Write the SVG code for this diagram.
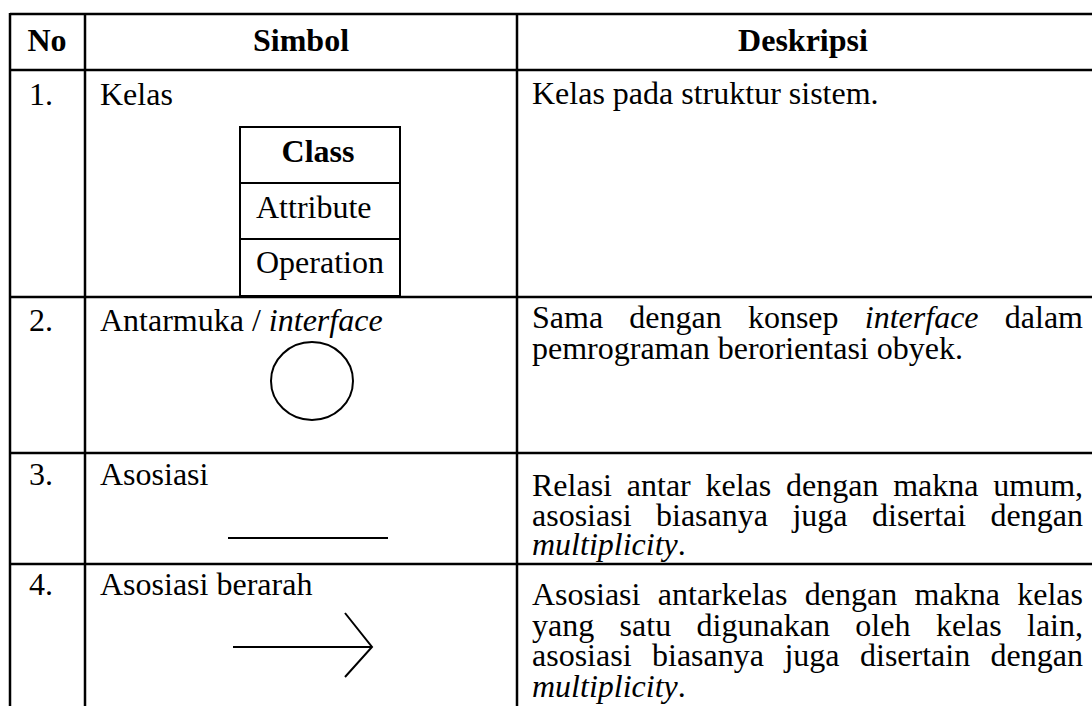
<svg xmlns="http://www.w3.org/2000/svg" width="1092" height="706" viewBox="0 0 1092 706">
  <style>
    text { font-family: "Liberation Serif", "Times New Roman", serif; font-size: 32px; fill: #000; }
    .b { font-weight: bold; }
    .i { font-style: italic; }
    .grid { stroke: #000; stroke-width: 2.5; fill: none; }
    .shape { stroke: #000; stroke-width: 2; fill: none; }
  </style>
  <rect width="1092" height="706" fill="#fff"/>

  <!-- table grid -->
  <g id="grid" class="grid">
    <line x1="10" y1="14" x2="1092" y2="14"/>
    <line x1="10" y1="70" x2="1092" y2="70"/>
    <line x1="10" y1="297" x2="1092" y2="297"/>
    <line x1="10" y1="453" x2="1092" y2="453"/>
    <line x1="10" y1="564" x2="1092" y2="564"/>
    <line x1="10" y1="13" x2="10" y2="706"/>
    <line x1="85" y1="13" x2="85" y2="706"/>
    <line x1="517" y1="13" x2="517" y2="706"/>
  </g>

  <!-- header -->
  <g id="header">
    <text class="b" x="47" y="51" text-anchor="middle">No</text>
    <text class="b" x="301" y="51" text-anchor="middle">Simbol</text>
    <text class="b" x="803" y="51" text-anchor="middle">Deskripsi</text>
  </g>

  <!-- row 1: class -->
  <g id="row1">
    <text x="29" y="105">1.</text>
    <text x="100" y="105">Kelas</text>
    <g id="class-symbol">
      <rect class="shape" x="240" y="127" width="160" height="169"/>
      <line class="shape" x1="240" y1="183" x2="400" y2="183"/>
      <line class="shape" x1="240" y1="239" x2="400" y2="239"/>
      <text class="b" x="318" y="162" text-anchor="middle">Class</text>
      <text x="256" y="218">Attribute</text>
      <text x="256" y="273">Operation</text>
    </g>
    <text x="532" y="104">Kelas pada struktur sistem.</text>
  </g>

  <!-- row 2: interface -->
  <g id="row2">
    <text x="29" y="331">2.</text>
    <text x="100" y="331">Antarmuka / <tspan class="i">interface</tspan></text>
    <ellipse id="interface-symbol" class="shape" cx="312" cy="381" rx="41" ry="39"/>
    <text y="328"><tspan x="532">Sama</tspan><tspan x="629.3">dengan</tspan><tspan x="747.9">konsep</tspan><tspan class="i" x="864.8">interface</tspan><tspan x="1004.8">dalam</tspan></text>
    <text x="532" y="359">pemrograman berorientasi obyek.</text>
  </g>

  <!-- row 3: association -->
  <g id="row3">
    <text x="29" y="485">3.</text>
    <text x="100" y="485">Asosiasi</text>
    <line id="association-symbol" class="shape" x1="228" y1="538" x2="388" y2="538"/>
    <text y="496"><tspan x="532">Relasi</tspan><tspan x="626.8">antar</tspan><tspan x="705.5">kelas</tspan><tspan x="786">dengan</tspan><tspan x="893.2">makna</tspan><tspan x="993.3">umum,</tspan></text>
    <text y="525.5"><tspan x="532">asosiasi</tspan><tspan x="656">biasanya</tspan><tspan x="792.4">juga</tspan><tspan x="872">disertai</tspan><tspan x="990.6">dengan</tspan></text>
    <text x="532" y="555"><tspan class="i">multiplicity</tspan>.</text>
  </g>

  <!-- row 4: directed association -->
  <g id="row4">
    <text x="29" y="595">4.</text>
    <text x="100" y="595">Asosiasi berarah</text>
    <g id="directed-association-symbol" class="shape">
      <line x1="233" y1="647" x2="372" y2="647"/>
      <polyline points="345,613 372,647 345,677"/>
    </g>
    <text y="605"><tspan x="532">Asosiasi</tspan><tspan x="657.8">antarkelas</tspan><tspan x="804.8">dengan</tspan><tspan x="914.6">makna</tspan><tspan x="1017.2">kelas</tspan></text>
    <text y="635.5"><tspan x="532">yang</tspan><tspan x="619.6">satu</tspan><tspan x="696.6">digunakan</tspan><tspan x="855.3">oleh</tspan><tspan x="935.9">kelas</tspan><tspan x="1027">lain,</tspan></text>
    <text y="666"><tspan x="532">asosiasi</tspan><tspan x="652">biasanya</tspan><tspan x="784.4">juga</tspan><tspan x="860">disertain</tspan><tspan x="990.6">dengan</tspan></text>
    <text x="532" y="696.5"><tspan class="i">multiplicity</tspan>.</text>
  </g>
</svg>
